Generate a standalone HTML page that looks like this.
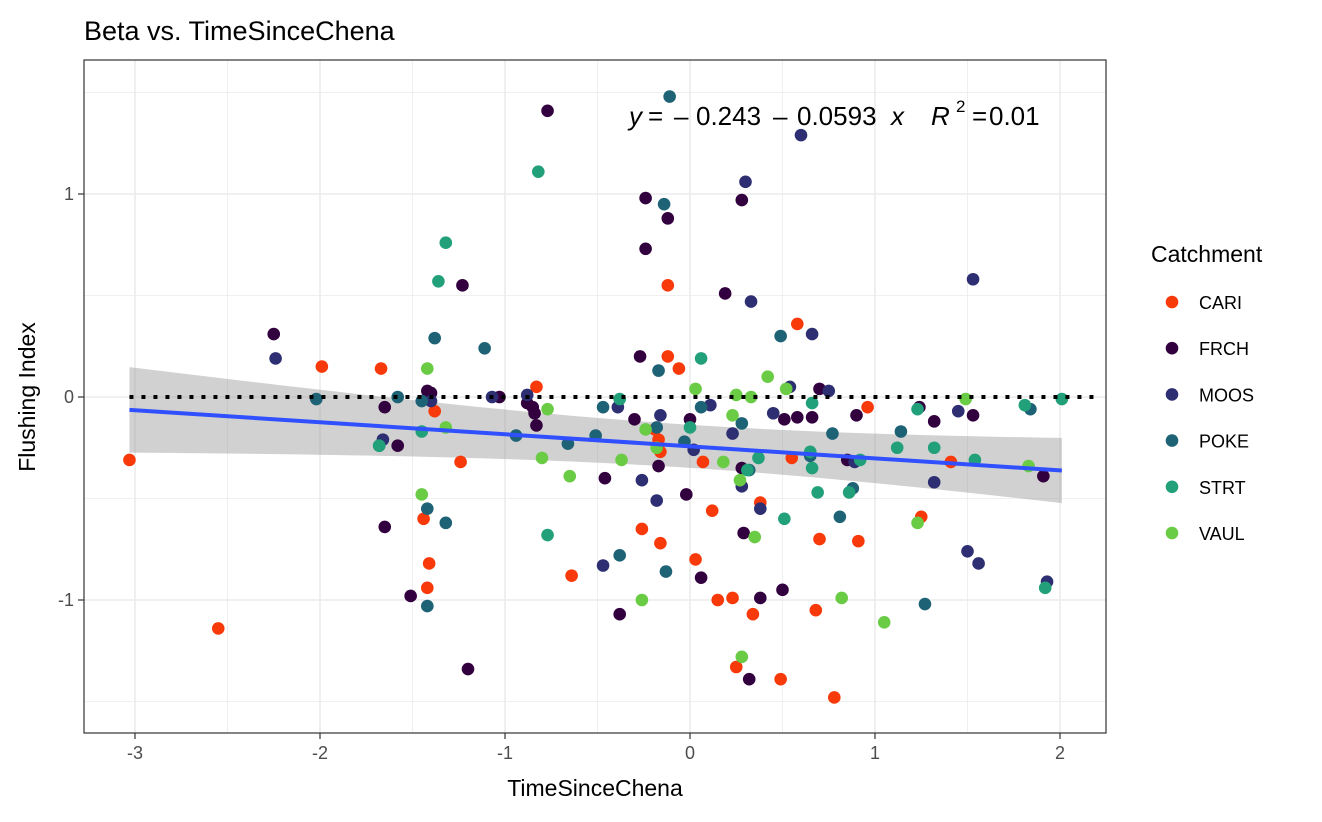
<!DOCTYPE html>
<html><head><meta charset="utf-8"><style>
body{margin:0;background:#fff;font-family:"Liberation Sans",Arial,sans-serif}
svg text{font-family:"Liberation Sans",Arial,sans-serif}
</style></head><body>
<svg id="chart" width="1322" height="817">
<text x="84" y="40" font-size="27" fill="#000">Beta vs. TimeSinceChena</text>
<rect x="84" y="60" width="1022" height="673" fill="#fff"/>
<g id="grid"></g><g id="band"></g><g id="marks"></g>
<rect x="84" y="60" width="1022" height="673" fill="none" stroke="#333" stroke-width="1.2"/>
<g id="axes"></g>
<g font-size="26" fill="#000">
<text y="125"><tspan x="629" font-style="italic">y</tspan><tspan x="648">=</tspan><tspan x="674">–</tspan><tspan x="696">0.243</tspan><tspan x="773">–</tspan><tspan x="797">0.0593</tspan><tspan x="891" font-style="italic">x</tspan></text>
<text y="125"><tspan x="931" font-style="italic">R</tspan><tspan x="956" y="112" font-size="17">2</tspan><tspan x="972" y="125">=</tspan><tspan x="989">0.01</tspan></text>
</g>
<text x="595" y="796" font-size="23" text-anchor="middle">TimeSinceChena</text>
<text transform="translate(35,397) rotate(-90)" font-size="23" text-anchor="middle">Flushing Index</text>
<text x="1151" y="262" font-size="23">Catchment</text>
<g id="legend"></g>
</svg>
<script>
const xTicks=[-3,-2,-1,0,1,2];
const yTicks=[-1,0,1];
const groups=["CARI","FRCH","MOOS","POKE","STRT","VAUL"];
const colors=["#F83A0A","#33003F","#2E2F72","#1E6276","#21A079","#6ACB45"];
const intercept=-0.243, slope=-0.0593;
const xFitRange=[-3.03,2.01];
const CARI=[[-3.03,-0.31],[-2.55,-1.14],[-1.99,0.15],[-1.67,0.14],[-1.44,-0.60],[-1.41,-0.82],[-1.42,-0.94],[-1.38,-0.07],[-1.24,-0.32],[-0.83,0.05],[-0.64,-0.88],[-0.26,-0.65],[-0.19,-0.16],[-0.17,-0.21],[-0.16,-0.72],[-0.16,-0.27],[-0.12,0.55],[-0.12,0.20],[-0.06,0.14],[0.03,-0.80],[0.07,-0.32],[0.12,-0.56],[0.15,-1.00],[0.23,-0.99],[0.25,-1.33],[0.34,-1.07],[0.38,-0.52],[0.49,-1.39],[0.55,-0.30],[0.58,0.36],[0.68,-1.05],[0.70,-0.70],[0.78,-1.48],[0.91,-0.71],[0.96,-0.05],[1.25,-0.59],[1.41,-0.32]];
const FRCH=[[-2.25,0.31],[-1.65,-0.64],[-1.65,-0.05],[-1.58,-0.24],[-1.51,-0.98],[-1.42,0.03],[-1.40,0.02],[-1.23,0.55],[-1.20,-1.34],[-1.03,0],[-0.77,1.41],[-0.88,-0.03],[-0.85,-0.05],[-0.84,-0.08],[-0.83,-0.14],[-0.46,-0.40],[-0.38,-1.07],[-0.30,-0.11],[-0.27,0.20],[-0.24,0.98],[-0.24,0.73],[-0.17,-0.34],[-0.12,0.88],[-0.02,-0.48],[0,-0.11],[0.06,-0.89],[0.19,0.51],[0.28,0.97],[0.28,-0.35],[0.29,-0.67],[0.32,-1.39],[0.38,-0.99],[0.50,-0.95],[0.51,-0.11],[0.58,-0.10],[0.66,-0.10],[0.70,0.04],[0.85,-0.31],[0.90,-0.09],[1.24,-0.05],[1.32,-0.12],[1.53,-0.09],[1.91,-0.39]];
const MOOS=[[-2.24,0.19],[-1.66,-0.21],[-1.40,-0.02],[-1.07,0],[-0.88,0.01],[-0.47,-0.83],[-0.39,-0.05],[-0.26,-0.41],[-0.18,-0.51],[-0.16,-0.09],[0.02,-0.26],[0.11,-0.04],[0.23,-0.18],[0.28,-0.44],[0.30,1.06],[0.33,0.47],[0.38,-0.55],[0.45,-0.08],[0.54,0.05],[0.66,0.31],[0.60,1.29],[0.75,0.03],[0.89,-0.32],[1.32,-0.42],[1.45,-0.07],[1.50,-0.76],[1.53,0.58],[1.56,-0.82],[1.93,-0.91]];
const POKE=[[-2.02,-0.01],[-1.68,-0.24],[-1.58,0],[-1.45,-0.02],[-1.42,-0.55],[-1.42,-1.03],[-1.38,0.29],[-1.32,-0.62],[-1.11,0.24],[-0.94,-0.19],[-0.66,-0.23],[-0.51,-0.19],[-0.47,-0.05],[-0.38,-0.78],[-0.18,-0.15],[-0.17,0.13],[-0.14,0.95],[-0.13,-0.86],[-0.11,1.48],[-0.03,-0.22],[0.06,-0.05],[0.28,-0.13],[0.32,-0.36],[0.49,0.30],[0.65,-0.29],[0.77,-0.18],[0.81,-0.59],[0.88,-0.45],[1.14,-0.17],[1.27,-1.02],[1.84,-0.06]];
const STRT=[[-1.68,-0.24],[-1.45,-0.17],[-1.36,0.57],[-1.32,0.76],[-0.82,1.11],[-0.77,-0.68],[-0.38,-0.01],[0.06,0.19],[0,-0.15],[0.31,-0.36],[0.37,-0.30],[0.51,-0.60],[0.65,-0.27],[0.66,-0.35],[0.66,-0.03],[0.69,-0.47],[0.86,-0.47],[0.92,-0.31],[1.12,-0.25],[1.32,-0.25],[1.23,-0.06],[1.54,-0.31],[1.81,-0.04],[1.92,-0.94],[2.01,-0.01]];
const VAUL=[[-1.45,-0.48],[-1.42,0.14],[-1.32,-0.15],[-0.80,-0.30],[-0.77,-0.06],[-0.65,-0.39],[-0.37,-0.31],[-0.26,-1.00],[-0.24,-0.16],[-0.18,-0.25],[0.03,0.04],[0.18,-0.32],[0.23,-0.09],[0.25,0.01],[0.27,-0.41],[0.28,-1.28],[0.33,0],[0.35,-0.69],[0.42,0.10],[0.52,0.04],[0.82,-0.99],[1.05,-1.11],[1.23,-0.62],[1.49,-0.01],[1.83,-0.34]];
const series=[CARI,FRCH,MOOS,POKE,STRT,VAUL];

const NS="http://www.w3.org/2000/svg";
const X=v=>690+185*v, Y=v=>397-203*v;
function mk(parent,tag,attrs){const e=document.createElementNS(NS,tag);for(const k in attrs)e.setAttribute(k,attrs[k]);document.getElementById(parent).appendChild(e);return e;}
for(let v=-3;v<=2.01;v+=0.5){const major=Number.isInteger(v);const e=mk('grid','line',{x1:X(v),x2:X(v),y1:60,y2:733,stroke:'#EBEBEB','stroke-width':major?1.6:0.8});

}
for(let v=-1.5;v<=1.51;v+=0.5){const major=Number.isInteger(v);const e=mk('grid','line',{x1:84,x2:1106,y1:Y(v),y2:Y(v),stroke:'#EBEBEB','stroke-width':major?1.6:0.8});

}
xTicks.forEach(t=>{const l=mk('axes','line',{x1:X(t),x2:X(t),y1:733,y2:739,stroke:'#333','stroke-width':1.2});


const tx=mk('axes','text',{x:X(t),y:759,'font-size':18,'text-anchor':'middle',fill:'#4D4D4D'});tx.textContent=t;

});
yTicks.forEach(t=>{const l=mk('axes','line',{x1:78,x2:84,y1:Y(t),y2:Y(t),stroke:'#333','stroke-width':1.2});


const tx=mk('axes','text',{x:74,y:Y(t)+6,'font-size':18,'text-anchor':'end',fill:'#4D4D4D'});tx.textContent=t;

});
const fit=x=>intercept+slope*x, hw=x=>1.97*Math.sqrt(0.0029+0.000927*x*x);
let up=[],lo=[];for(let i=0;i<=50;i++){const x=xFitRange[0]+(xFitRange[1]-xFitRange[0])*i/50;up.push(X(x)+','+Y(fit(x)+hw(x)));lo.unshift(X(x)+','+Y(fit(x)-hw(x)));}
const band=mk('band','polygon',{points:up.concat(lo).join(' '),fill:'#999','fill-opacity':0.45});


series.forEach((s,gi)=>s.forEach(p=>{const c=mk('marks','circle',{cx:X(p[0]),cy:Y(p[1]),r:6.3,fill:colors[gi]});

}));
const z=mk('marks','line',{x1:X(-3.03),x2:X(2.2),y1:Y(0),y2:Y(0),stroke:'#000','stroke-width':4,'stroke-dasharray':'4 8'});


const rl=mk('marks','line',{x1:X(xFitRange[0]),x2:X(xFitRange[1]),y1:Y(fit(xFitRange[0])),y2:Y(fit(xFitRange[1])),stroke:'#3050FF','stroke-width':4});


groups.forEach((g,i)=>{const y=302+46.2*i;
const c=mk('legend','circle',{cx:1172,cy:y,r:6.3,fill:colors[i]});


const t=mk('legend','text',{x:1199,y:y+7,'font-size':18,fill:'#000'});t.textContent=g;

});
</script>
</body></html>
